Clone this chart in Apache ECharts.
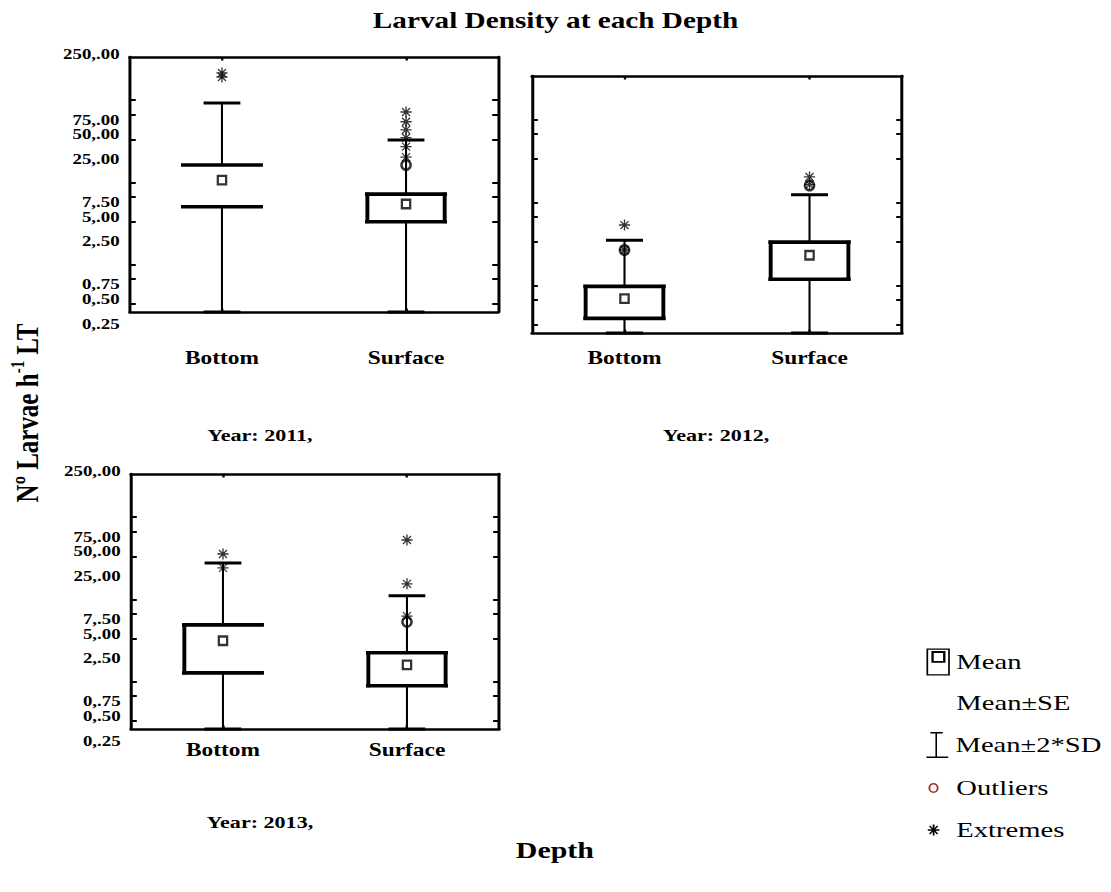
<!DOCTYPE html>
<html>
<head>
<meta charset="utf-8">
<script src="https://cdn.jsdelivr.net/npm/echarts@6.0.0/dist/echarts.min.js"></script>
<style>
  html, body { margin: 0; padding: 0; background: #fff; overflow: hidden; }
  /* the reference picture is stretched horizontally; reproduce that stretch */
  #chart { width: 855px; height: 892px; transform: scaleX(1.2994); transform-origin: 0 0; }
</style>
</head>
<body>
<div id="chart"></div>
<script>
// ---------------- data ----------------
const categories = ['Bottom', 'Surface'];
const years = ['2011', '2012', '2013'];
const tickValues = [0.25, 0.5, 0.75, 2.5, 5, 7.5, 25, 50, 75];
const labelValues = [0.25, 0.5, 0.75, 2.5, 5, 7.5, 25, 50, 75, 250];
const tickLabels = ['0,.25', '0,.50', '0,.75', '2,.50', '5,.00', '7,.50', '25,.00', '50,.00', '75,.00', '250,.00'];
const yMinValue = 0.2;
const yMaxValue = 250;

// values per year, in category order [Bottom, Surface]; null = Mean-2*SD below zero
const mean2011 = [8.0, 4.1];
const seLow2011 = [3.8, 2.5];
const seHigh2011 = [12.2, 5.4];
const sdLow2011 = [null, null];
const sdHigh2011 = [69, 24.6];
const outliers2011 = [[], [12.2]];
const extremes2011 = [[160, 143], [53.7, 40.9, 32.6, 26.2, 20.4, 15.2]];

const mean2012 = [0.52, 1.73];
const seLow2012 = [0.30, 0.89];
const seHigh2012 = [0.73, 2.49];
const sdLow2012 = [null, null];
const sdHigh2012 = [2.63, 9.25];
const outliers2012 = [[2.0], [12.0]];
const extremes2012 = [[4.0, 2.0], [15.2, 12.3]];

const mean2013 = [2.36, 1.2];
const seLow2013 = [0.96, 0.67];
const seHigh2013 = [3.68, 1.69];
const sdLow2013 = [null, null];
const sdHigh2013 = [20.8, 8.3];
const outliers2013 = [[], [4.0]];
const extremes2013 = [[26.7, 18.1], [39.5, 11.6, 4.7]];

// ---------------- layout / style ----------------
const FONT = "'Liberation Serif', 'Times New Roman', serif";
const BOX_FRAC = 0.42, CAP_FRAC = 0.2;
const boxSides = [['none', 'both'], ['both', 'both'], ['left', 'both']];
const grids = [
  { left: 100.0, top: 57, width: 283.3, height: 255, labelMargin: 37, showY: true },
  { left: 409.4, top: 76, width: 284.8, height: 257, labelMargin: 16, showY: false },
  { left: 100.8, top: 474, width: 283.2, height: 255, labelMargin: 12, showY: true }
];
const yearPos = [[200, 435], [551, 435], [200, 822]];

const panels = [
  { mean: mean2011, seLow: seLow2011, seHigh: seHigh2011, sdLow: sdLow2011, sdHigh: sdHigh2011, out: outliers2011, ext: extremes2011 },
  { mean: mean2012, seLow: seLow2012, seHigh: seHigh2012, sdLow: sdLow2012, sdHigh: sdHigh2012, out: outliers2012, ext: extremes2012 },
  { mean: mean2013, seLow: seLow2013, seHigh: seHigh2013, sdLow: sdLow2013, sdHigh: sdHigh2013, out: outliers2013, ext: extremes2013 }
];

const L = Math.log10;
const yMin = L(yMinValue), yMax = L(yMaxValue);
const clampLog = v => (v === null || v <= yMinValue) ? yMin : L(v);

const STAR = 'path://M0,4.4H10V5.6H0Z M4.4,0H5.6V10H4.4Z M1,1.8L1.8,1L9,8.2L8.2,9Z M9,1.8L1.8,9L1,8.2L8.2,1Z';

function labelFormatter(v) {
  let k = 0, best = Infinity;
  labelValues.forEach((lv, i) => { const d = Math.abs(L(lv) - v); if (d < best) { best = d; k = i; } });
  return (k === labelValues.length - 1 ? '{hi|' : '{lo|') + tickLabels[k] + '}';
}
const labelRich = {
  lo: { fontFamily: FONT, fontWeight: 'bold', fontSize: 14.5, color: '#000', padding: [40, 0, 0, 0] },
  hi: { fontFamily: FONT, fontWeight: 'bold', fontSize: 14.5, color: '#000', padding: [0, 0, 6, 0] }
};

function renderWhisker(params, api) {
  const c = api.value(0);
  const pLo = api.coord([c, api.value(1)]);
  const pSeLo = api.coord([c, api.value(2)]);
  const pSeHi = api.coord([c, api.value(3)]);
  const pHi = api.coord([c, api.value(4)]);
  const half = api.size([1, 0])[0] * CAP_FRAC / 2;
  const x = pHi[0];
  const vStyle = { stroke: '#000', lineWidth: 1.6 };
  const cStyle = { stroke: '#000', lineWidth: 3 };
  return {
    type: 'group',
    children: [
      { type: 'line', shape: { x1: x, y1: pHi[1], x2: x, y2: pSeHi[1] }, style: vStyle },
      { type: 'line', shape: { x1: x, y1: pSeLo[1], x2: x, y2: pLo[1] }, style: vStyle },
      { type: 'line', shape: { x1: x - half, y1: pHi[1], x2: x + half, y2: pHi[1] }, style: cStyle },
      { type: 'line', shape: { x1: x - half, y1: pLo[1], x2: x + half, y2: pLo[1] }, style: cStyle }
    ]
  };
}

function makeBoxRenderer(sides) {
  return function (params, api) {
    const c = api.value(0);
    const lo = api.coord([c, api.value(1)]);
    const hi = api.coord([c, api.value(2)]);
    const half = api.size([1, 0])[0] * BOX_FRAC / 2;
    const x0 = lo[0] - half, x1 = lo[0] + half;
    const hStyle = { stroke: '#000', lineWidth: 3.6, lineCap: 'square' };
    const vStyle = { stroke: '#000', lineWidth: 3, lineCap: 'square' };
    const s = sides[params.dataIndex];
    const children = [
      { type: 'line', shape: { x1: x0, y1: hi[1], x2: x1, y2: hi[1] }, style: hStyle },
      { type: 'line', shape: { x1: x0, y1: lo[1], x2: x1, y2: lo[1] }, style: hStyle }
    ];
    if (s === 'left' || s === 'both') children.push({ type: 'line', shape: { x1: x0, y1: hi[1], x2: x0, y2: lo[1] }, style: vStyle });
    if (s === 'both') children.push({ type: 'line', shape: { x1: x1, y1: hi[1], x2: x1, y2: lo[1] }, style: vStyle });
    return { type: 'group', children };
  };
}

const xAxes = [], yAxes = [], series = [];
grids.forEach((g, i) => {
  const tickCommon = { show: true, alignWithLabel: true, inside: true, length: 3.5, lineStyle: { color: '#000', width: 1.8 } };
  const hLine = { show: true, onZero: false, lineStyle: { color: '#000', width: 2.6 } };
  xAxes.push({
    gridIndex: i, type: 'category', data: categories, position: 'bottom',
    axisLine: hLine, axisTick: tickCommon, splitLine: { show: false },
    axisLabel: { margin: g.labelMargin, fontFamily: FONT, fontWeight: 'bold', fontSize: 18, color: '#000' }
  });
  xAxes.push({
    gridIndex: i, type: 'category', data: categories, position: 'top',
    axisLine: hLine, axisTick: tickCommon, splitLine: { show: false }, axisLabel: { show: false }
  });
  const vLine = { show: true, onZero: false, lineStyle: { color: '#000', width: 2.3 } };
  const yTick = { show: true, inside: true, length: 4.5, customValues: tickValues.map(L), lineStyle: { color: '#000', width: 2 } };
  yAxes.push({
    gridIndex: i, type: 'value', min: yMin, max: yMax, position: 'left',
    axisLine: vLine, axisTick: yTick, splitLine: { show: false },
    axisLabel: { show: g.showY, customValues: labelValues.map(L), formatter: labelFormatter, rich: labelRich, margin: 8 }
  });
  yAxes.push({
    gridIndex: i, type: 'value', min: yMin, max: yMax, position: 'right',
    axisLine: vLine, axisTick: yTick, splitLine: { show: false }, axisLabel: { show: false }
  });

  const p = panels[i];
  const axisRef = { xAxisIndex: 2 * i, yAxisIndex: 2 * i };
  series.push(Object.assign({
    name: 'Mean±2*SD', type: 'custom', renderItem: renderWhisker, z: 2,
    encode: { x: 0, y: [1, 2, 3, 4] },
    data: categories.map((c, k) => [k, clampLog(p.sdLow[k]), L(p.seLow[k]), L(p.seHigh[k]), L(p.sdHigh[k])])
  }, axisRef));
  series.push(Object.assign({
    name: 'Mean±SE', type: 'custom', renderItem: makeBoxRenderer(boxSides[i]), z: 3,
    encode: { x: 0, y: [1, 2] },
    data: categories.map((c, k) => [k, L(p.seLow[k]), L(p.seHigh[k])])
  }, axisRef));
  series.push(Object.assign({
    name: 'Mean', type: 'scatter', z: 4, symbol: 'rect', symbolSize: [6.4, 8.5],
    itemStyle: { color: '#fff', borderColor: '#000', borderWidth: 2 },
    data: categories.map((c, k) => [k, L(p.mean[k])])
  }, axisRef));
  const outData = [], extData = [];
  categories.forEach((c, k) => {
    p.out[k].forEach(v => outData.push([k, L(v)]));
    p.ext[k].forEach(v => extData.push([k, L(v)]));
  });
  series.push(Object.assign({
    name: 'Outliers', type: 'scatter', z: 5, symbol: 'circle', symbolSize: [7, 9.5],
    itemStyle: { color: 'rgba(255,255,255,0)', borderColor: '#000', borderWidth: 2.2 },
    data: outData
  }, axisRef));
  series.push(Object.assign({
    name: 'Extremes', type: 'scatter', z: 6, symbol: STAR, symbolSize: [8.6, 11],
    itemStyle: { color: '#000' },
    data: extData
  }, axisRef));
});

// legend icons (drawn in an 18 x H box; tiny corner dots fix the box size)
const corner = (w, h) => `M0,0h0.01v0.01h-0.01Z M${w - 0.01},${h - 0.01}h0.01v0.01h-0.01Z `;
const icons = {
  'Mean': 'path://M0,0H18V27H0Z M1.3,1.3V25.7H16.7V1.3Z M3.8,2.6H14.6V14.2H3.8Z M5.6,4.4V12.4H12.8V4.4Z',
  'Mean±SE': 'path://' + corner(18, 26),
  'Mean±2*SD': 'path://M4.5,0H14V1.6H4.5Z M8.4,0H9.6V26H8.4Z M1.5,24.4H18.2V26H1.5Z',
  'Outliers': 'path://' + corner(18, 26) + 'M1.5,13 A3.9,4.9 0 1,1 9.3,13 A3.9,4.9 0 1,1 1.5,13Z M2.9,13 A2.5,3.5 0 1,0 7.9,13 A2.5,3.5 0 1,0 2.9,13Z',
  'Extremes': 'path://' + corner(18, 26) + 'M1,12.3H10V13.7H1Z M4.8,7.5H6.2V18.5H4.8Z M2,9.4L2.8,8.6L9,16.6L8.2,17.4Z M9,9.4L2.8,17.4L2,16.6L8.2,8.6Z'
};
const legendRows = [
  ['Mean', 662, 27, '#000'],
  ['Mean±SE', 703, 26, 'rgba(0,0,0,0)'],
  ['Mean±2*SD', 745, 26, '#000'],
  ['Outliers', 788, 26, '#a52a2a'],
  ['Extremes', 830, 26, '#000']
];
const legends = legendRows.map(([name, cy, h, col]) => ({
  left: 713, top: cy - h / 2, padding: 0, orient: 'vertical', selectedMode: false,
  itemWidth: 18, itemHeight: h,
  textStyle: { fontFamily: FONT, fontSize: 22, color: '#000' },
  data: [{ name, icon: icons[name], itemStyle: { color: col, borderWidth: 0, opacity: 1 } }]
}));

const option = {
  animation: false,
  backgroundColor: '#fff',
  title: {
    text: 'Larval Density at each Depth', left: 'center', top: 4,
    textStyle: { fontFamily: FONT, fontSize: 22.5, fontWeight: 'bold', color: '#000' }
  },
  legend: legends,
  grid: grids.map(g => ({ left: g.left, top: g.top, width: g.width, height: g.height, containLabel: false })),
  xAxis: xAxes,
  yAxis: yAxes,
  series: series,
  graphic: [
    ...years.map((y, i) => ({
      type: 'text', x: yearPos[i][0], y: yearPos[i][1],
      style: { text: 'Year: ' + y + ',', fontFamily: FONT, fontWeight: 'bold', fontSize: 17, fill: '#000', align: 'center', verticalAlign: 'middle' }
    })),
    {
      type: 'text', x: 427, y: 850,
      style: { text: 'Depth', fontFamily: FONT, fontWeight: 'bold', fontSize: 23, fill: '#000', align: 'center', verticalAlign: 'middle' }
    },
    {
      type: 'text', x: 20.8, y: 413, rotation: Math.PI / 2,
      style: {
        text: '{b|Nº Larvae h}{s|-1}{b| LT}', align: 'center', verticalAlign: 'middle', fill: '#000',
        rich: {
          b: { fontFamily: FONT, fontWeight: 'bold', fontSize: 25, fill: '#000' },
          s: { fontFamily: FONT, fontWeight: 'bold', fontSize: 15, fill: '#000', padding: [0, 0, 14, 0] }
        }
      }
    }
  ]
};

const chart = echarts.init(document.getElementById('chart'), null, { renderer: 'svg' });
chart.setOption(option);
</script>
</body>
</html>
